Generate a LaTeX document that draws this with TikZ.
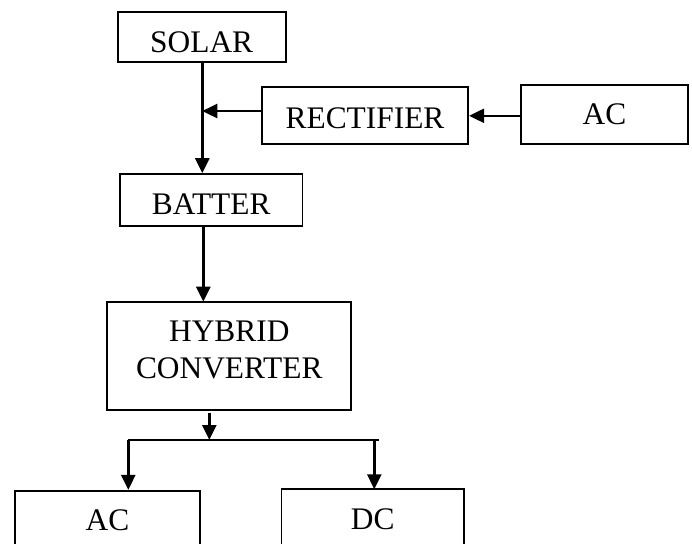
\documentclass[tikz,border=0pt]{standalone}
\usepackage{fontspec}
\setmainfont{Liberation Serif}
\usetikzlibrary{arrows.meta}
\begin{document}
\begin{tikzpicture}[x=0.5pt,y=-0.5pt]
		\tikzset{blk/.style={draw, line width=0.85pt, inner sep=0pt, font=\fontsize{15.7}{18.3}\selectfont, align=center},
			flow/.style={line width=1.3pt, -{Triangle[length=7.5pt,width=7pt]}}}
		\useasboundingbox (0,0) rectangle (692,543);
		\clip (0,0) rectangle (692,543);
		\node[blk,minimum width=84pt,minimum height=25.3pt,text height=15pt,text depth=0pt] (solar) at (201.7,37) {SOLAR};
		\node[blk,minimum width=103.3pt,minimum height=28.5pt,text height=13pt,text depth=0pt] (rect) at (365,115.8) {RECTIFIER};
		\node[blk,minimum width=83.8pt,minimum height=29.5pt] (acin) at (604.5,114.5) {AC};
		\node[blk,minimum width=91.2pt,minimum height=25.9pt,text height=15pt,text depth=0pt] (batt) at (211.2,199.9) {BATTER};
		\node[blk,minimum width=122pt,minimum height=54.3pt,text depth=6pt] (hyb) at (229.3,356) {HYBRID\\CONVERTER};
		\node[blk,minimum width=92.5pt,minimum height=30pt] (acout) at (107.5,520.7) {AC};
		\node[blk,minimum width=91.2pt,minimum height=30pt] (dcout) at (372.8,519.3) {DC};
		\coordinate (jn) at (202.3,111);
		\coordinate (sp) at (209.3,440);
		\coordinate (spl) at (128.3,440);
		\coordinate (spr) at (379.3,440);
		\draw[flow] (solar.south -| jn) -- (jn |- batt.north);
		\draw[flow] (rect.west |- jn) -- (jn);
		\draw[flow] (acin.west |- rect.east) -- (rect.east);
		\draw[flow] (batt.south -| 203.3,0) -- (203.3,301.7);
		\draw[flow] (209.3,412.7) -- (sp);
		\draw[line width=1.3pt] (spl) -- (spr);
		\draw[flow] (spl) -- (spl |- acout.north);
		\draw[flow] (374.3,440) -- (374.3,489.3);
	\end{tikzpicture}
\end{document}
